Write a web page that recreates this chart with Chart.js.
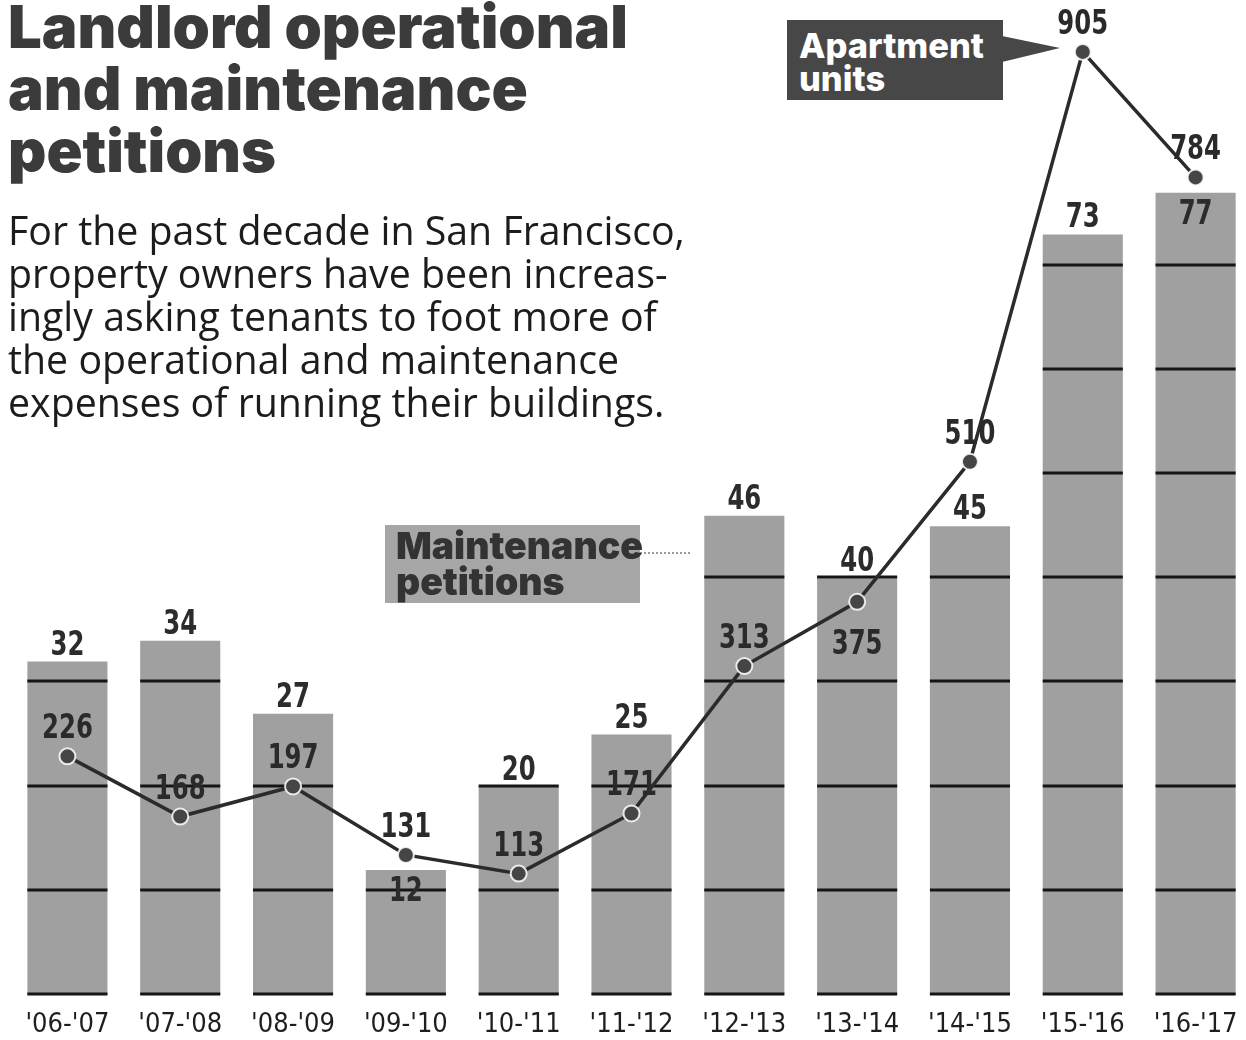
<!DOCTYPE html>
<html><head><meta charset="utf-8">
<script src="https://cdn.jsdelivr.net/npm/chart.js@4/dist/chart.umd.min.js"></script>
<style>
html,body{margin:0;padding:0;background:#fff;overflow:hidden;width:1246px;height:1040px;}
#wrap{position:relative;width:1246px;height:1040px;overflow:hidden;}
#c{position:absolute;left:0;top:0;}
.tl{position:absolute;left:8px;white-space:nowrap;font-family:Inter,'Open Sans',sans-serif;font-weight:900;font-size:57px;line-height:62px;color:#3b3b3b;}
.sl{position:absolute;left:8px;white-space:nowrap;font-family:'Open Sans',sans-serif;font-size:32px;line-height:40px;color:#1c1c1c;}
#apt{position:absolute;left:787px;top:20px;width:216px;height:80px;background:#474747;color:#fff;font-family:Inter,sans-serif;font-weight:800;font-size:33px;line-height:33px;box-sizing:border-box;padding:9px 0 0 12px;white-space:nowrap;}
#aptTip{position:absolute;left:1002px;top:30px;width:60px;height:40px;background:#474747;clip-path:polygon(0 6px,0 32px,58px 18px);}
#mnt{position:absolute;left:385px;top:525px;width:255px;height:78px;background:#a6a6a6;color:#333;font-family:Inter,sans-serif;font-weight:900;font-size:36px;line-height:36px;box-sizing:border-box;padding:3px 0 0 11px;white-space:nowrap;overflow:visible;}
#mnt span,#apt span{display:inline-block;}
#mntLead{position:absolute;left:640px;top:552px;width:50px;height:0;border-top:2px dotted #9a9a9a;}
</style></head>
<body><div id="wrap">
<canvas id="c" width="1252" height="1040"></canvas>
<div class="tl" style="top:-5px" data-w="620">Landlord operational</div>
<div class="tl" style="top:57px" data-w="520">and maintenance</div>
<div class="tl" style="top:119px" data-w="268">petitions</div>
<div class="sl" id="sub1" style="top:210px">For the past decade in San Francisco,</div>
<div class="sl" style="top:253px">property owners have been increas-</div>
<div class="sl" style="top:296px">ingly asking tenants to foot more of</div>
<div class="sl" style="top:339px">the operational and maintenance</div>
<div class="sl" style="top:382px">expenses of running their buildings.</div>
<div id="aptTip"></div>
<div id="apt"><span data-w="185">Apartment</span><br><span>units</span></div>
<div id="mntLead"></div>
<div id="mnt"><span data-w="247">Maintenance</span><br><span>petitions</span></div>
</div>
<script>
// ---- data ----
const seasons = ["'06-'07","'07-'08","'08-'09","'09-'10","'10-'11","'11-'12","'12-'13","'13-'14","'14-'15","'15-'16","'16-'17"];
const petitions = [32, 34, 27, 12, 20, 25, 46, 40, 45, 73, 77];
const apartmentUnits = [226, 168, 197, 131, 113, 171, 313, 375, 510, 905, 784];
const gridStep = 10;
// label placement (style only)
const barLabelPlace = ['above','above','above','inside','above','above','above','above','above','above','inside'];
const lineLabelPlace = ['above','above','above','above','above','above','above','below','above','above','above'];

// fit text to reference widths
function fitEl(el, target, scope){
  const w=el.getBoundingClientRect().width;
  const fs=parseFloat(getComputedStyle(el).fontSize);
  const nfs=(fs*target/w).toFixed(2)+'px';
  (scope||[el]).forEach(e=>e.style.fontSize=nfs);
}
document.querySelectorAll('.tl[data-w]').forEach(el=>fitEl(el,+el.dataset.w));
fitEl(document.getElementById('sub1'),677,[...document.querySelectorAll('.sl')]);
['apt','mnt'].forEach(id=>{
  const box=document.getElementById(id); const sp=box.querySelector('span[data-w]');
  fitEl(sp,+sp.dataset.w,[box]);
});

const numFamily = "'DejaVu Sans Condensed','DejaVu Sans',sans-serif";
function condensedText(ctx, text, x, y, squeeze){
  ctx.save(); ctx.translate(x,y); ctx.scale(squeeze,1); ctx.fillText(text,0,0); ctx.restore();
}
const overlay = {
  id:'overlay',
  afterDatasetDraw(chart,args){
    if(args.index!==0) return;
    const ctx=chart.ctx, meta=chart.getDatasetMeta(0), ys=chart.scales.y;
    ctx.save(); ctx.strokeStyle='#151515'; ctx.lineWidth=3;
    meta.data.forEach((bar,i)=>{
      const half=bar.width/2;
      for(let g=0; g<=petitions[i]; g+=gridStep){
        const y=Math.round(ys.getPixelForValue(g))-1;
        ctx.beginPath(); ctx.moveTo(bar.x-half,y); ctx.lineTo(bar.x+half,y); ctx.stroke();
      }
    });
    ctx.restore();
  },
  afterDatasetsDraw(chart){
    const ctx=chart.ctx;
    ctx.save(); ctx.font="bold 33px "+numFamily; ctx.textAlign='center'; ctx.textBaseline='alphabetic';
    chart.getDatasetMeta(0).data.forEach((bar,i)=>{
      const y = barLabelPlace[i]==='inside' ? bar.y+31 : bar.y-7;
      ctx.fillStyle = '#2c2c2c';
      condensedText(ctx, String(petitions[i]), bar.x, y, 0.82);
    });
    chart.getDatasetMeta(1).data.forEach((pt,i)=>{
      const y = lineLabelPlace[i]==='below' ? pt.y+52 : pt.y-18;
      ctx.fillStyle='#2a2a2a';
      condensedText(ctx, String(apartmentUnits[i]), pt.x, y, 0.82);
    });
    ctx.restore();
  }
};

new Chart(document.getElementById('c'),{
  data:{
    labels:seasons,
    datasets:[
      {type:'bar',label:'Maintenance petitions',data:petitions,yAxisID:'y',order:2,
       backgroundColor:'#a0a0a0',borderWidth:0,barPercentage:0.71,categoryPercentage:1},
      {type:'line',label:'Apartment units',data:apartmentUnits,yAxisID:'y1',order:1,
       borderColor:'#2b2b2b',borderWidth:3.5,pointRadius:8,pointBackgroundColor:'#454545',
       pointBorderColor:'rgba(255,255,255,0.85)',pointBorderWidth:2,tension:0}
    ]
  },
  options:{
    responsive:false,animation:false,devicePixelRatio:1,
    layout:{autoPadding:false,padding:{left:11,right:0,top:0,bottom:0}},
    plugins:{legend:{display:false},tooltip:{enabled:false}},
    scales:{
      x:{grid:{display:false,drawTicks:false},border:{display:false},
         afterFit(s){ s.height=45; s.paddingLeft=0; s.paddingRight=0; },
         ticks:{color:'#1e1e1e',padding:16,maxRotation:0,autoSkip:false,
                font:{family:numFamily,size:27,lineHeight:1}}},
      y:{display:false,min:0,max:95.5},
      y1:{display:false,min:-4,max:955}
    }
  },
  plugins:[overlay]
});
</script>
</body></html>
